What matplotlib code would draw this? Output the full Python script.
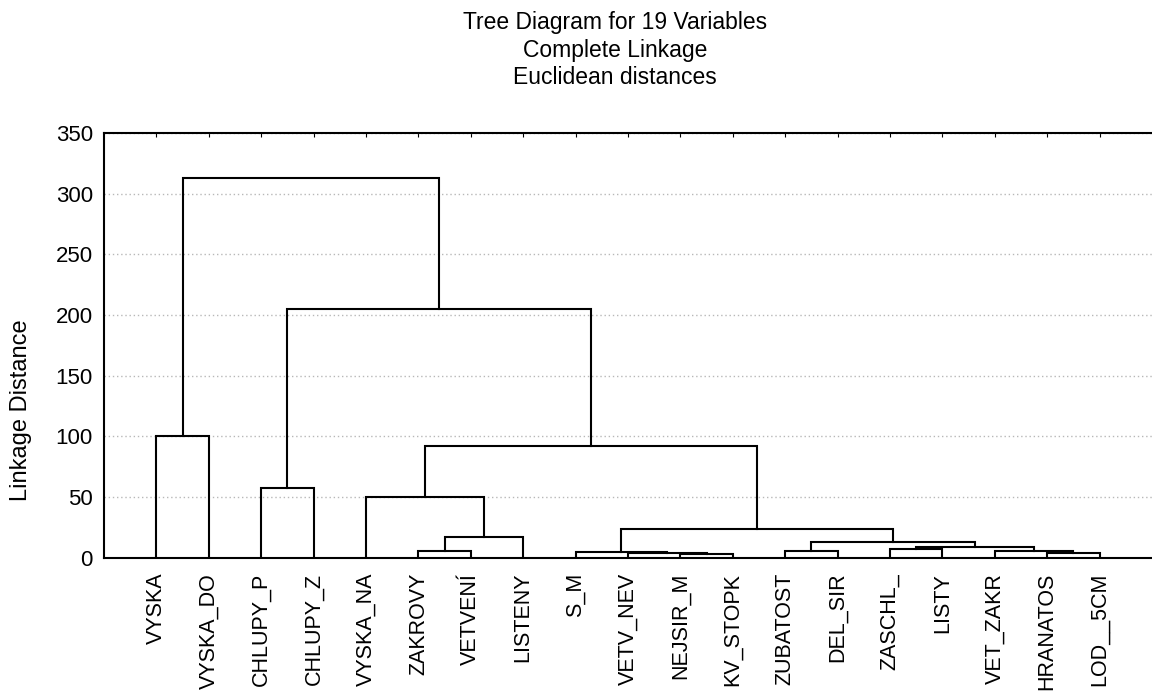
import numpy as np
import matplotlib
matplotlib.use("Agg")
from matplotlib import pyplot as plt

plt.rcParams['font.family'] = ['Liberation Sans', 'DejaVu Sans']

# variables in leaf order
labels = ["VYSKA", "VYSKA_DO", "CHLUPY_P", "CHLUPY_Z", "VYSKA_NA", "ZAKROVY",
          "VETVENÍ", "LISTENY", "S_M", "VETV_NEV", "NEJSIR_M", "KV_STOPK",
          "ZUBATOST", "DEL_SIR", "ZASCHL_", "LISTY", "VET_ZAKR", "HRANATOS",
          "LOD__5CM"]

# merges: (left node, right node, linkage distance); new node ids start at 19
left_nodes = [10, 9, 17, 8, 5, 12, 16, 14, 26, 24, 23, 22, 4, 2, 31, 0, 32, 34]
right_nodes = [11, 19, 18, 20, 6, 13, 21, 15, 25, 27, 7, 28, 29, 3, 30, 1, 33, 35]
heights = [2.5, 3.5, 4.0, 4.5, 5.0, 5.0, 5.5, 7.0, 9.0, 13.0, 17.0, 23.5,
           50.0, 57.0, 92.0, 100.0, 205.0, 313.0]

n = len(labels)
pos = {i: i + 1.0 for i in range(n)}
hgt = {i: 0.0 for i in range(n)}

fig = plt.figure(figsize=(11.52, 6.95), dpi=100)
ax = fig.add_axes([104 / 1152, 1 - 557.5 / 695, 1 - 104 / 1152, (557.5 - 133) / 695])

for k, (a, b, h) in enumerate(zip(left_nodes, right_nodes, heights)):
    node = n + k
    xa, xb = pos[a], pos[b]
    ax.plot([xa, xa, xb, xb], [hgt[a], h, h, hgt[b]], color='black', lw=1.5,
            solid_joinstyle='miter', zorder=3)
    pos[node] = (xa + xb) / 2
    hgt[node] = h

ax.set_xlim(0, 20)
ax.set_ylim(0, 350)
ax.set_yticks(np.arange(0, 351, 50))
ax.set_xticks(np.arange(1, n + 1))
ax.set_xticklabels(labels, rotation=90, va='top', ha='center', fontsize=15.5)
ax.tick_params(axis='y', length=0, pad=8, labelsize=16)
ax.tick_params(axis='x', which='both', bottom=False, top=True, direction='in',
               length=3, pad=11)
ax.yaxis.grid(True, linestyle=(0, (1, 2)), color='#b8b8b8', lw=1.0)
ax.set_axisbelow(True)
ax.spines['right'].set_visible(False)
for s in ['left', 'bottom', 'top']:
    ax.spines[s].set_linewidth(1.5)
ax.set_ylabel("Linkage Distance", fontsize=17)
ax.yaxis.set_label_coords(-0.069, 0.347)

fig.text(0.534, 1 - 22 / 695, "Tree Diagram for 19 Variables", ha='center', va='center', fontsize=16.5)
fig.text(0.534, 1 - 50 / 695, "Complete Linkage", ha='center', va='center', fontsize=16.5)
fig.text(0.534, 1 - 78 / 695, "Euclidean distances", ha='center', va='center', fontsize=16.5)

fig.savefig("out.png", dpi=100, facecolor='white')
